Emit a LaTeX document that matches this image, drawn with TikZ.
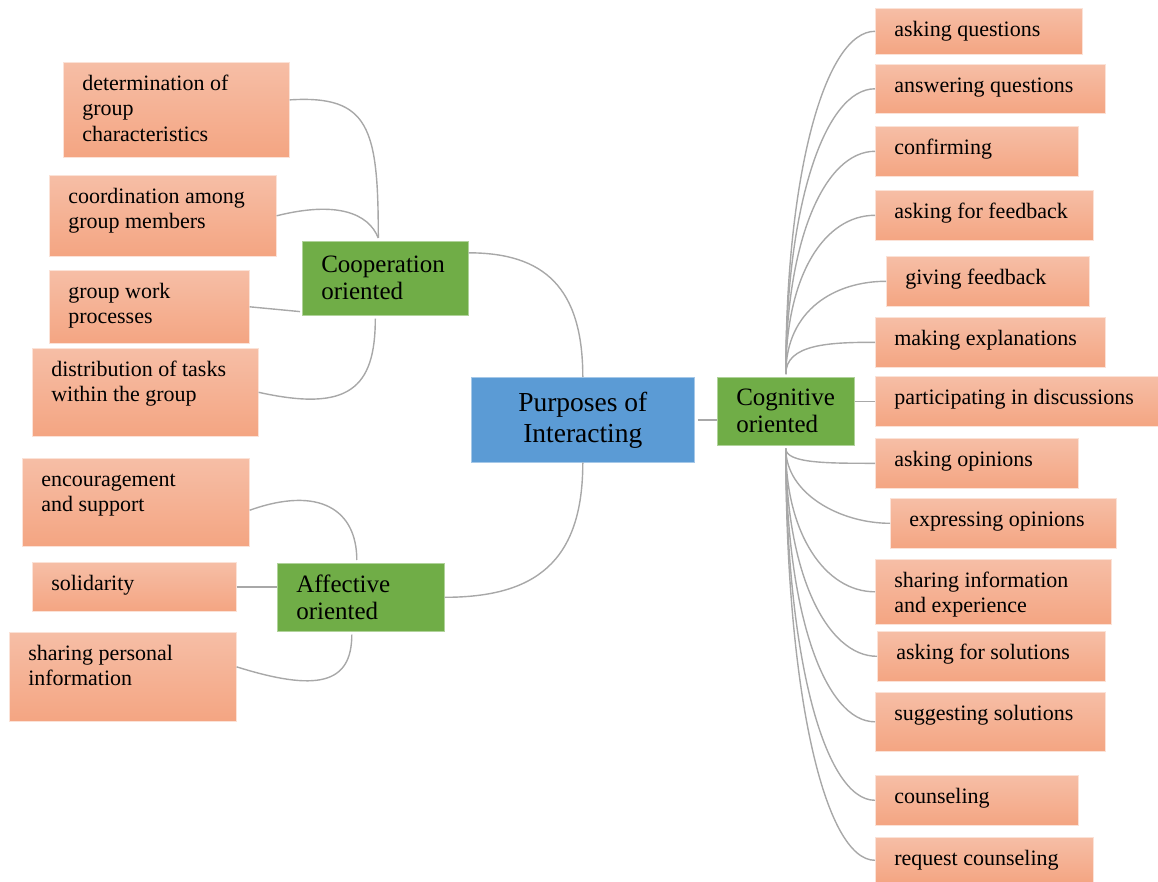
\documentclass[tikz,border=0pt]{standalone}
\usepackage{fontspec}
\setmainfont{Liberation Serif}
\usetikzlibrary{calc}
\definecolor{salmonT}{HTML}{F6BEA6}
\definecolor{salmonB}{HTML}{F4A582}
\definecolor{grn}{HTML}{70AD47}
\definecolor{blu}{HTML}{5B9BD5}
\definecolor{conncol}{HTML}{A8A8A8}
\newcommand{\leafbox}[6]{\node[leaf] (#1) at (#2,#3) {\parbox[c][#5pt][t]{\dimexpr #4pt-38pt\relax}{\raggedright\rule{0pt}{28pt}#6}};}
\tikzset{
  leaf/.style={anchor=north west, top color=salmonT, bottom color=salmonB, draw=salmonT!45!white, line width=0.6pt,
    inner xsep=19pt, inner ysep=0pt, font=\fontsize{22}{25.5}\selectfont, text=black},
  midbox/.style={anchor=north west, fill=grn, draw=grn!55!white, line width=0.6pt, align=left, inner xsep=19pt,
    inner ysep=0pt, font=\fontsize{25}{27}\selectfont, text=black},
  rootbox/.style={anchor=north west, fill=blu, draw=blu!55!white, line width=0.6pt, align=center,
    font=\fontsize{27.5}{31}\selectfont, text=black, minimum width=223pt, minimum height=85pt},
  conn/.style={draw=conncol, line width=1.4pt}
}
\begin{document}
\begin{tikzpicture}[x=1pt,y=-1pt]
\useasboundingbox (0,0) rectangle (1158,882);
% root and middle nodes
\node[rootbox] (blue) at (471,377) {Purposes of\\Interacting};
\node[midbox, text width=128pt, minimum height=74pt] (coop) at (302,241) {Cooperation\\oriented};
\node[midbox, text width=129pt, minimum height=68pt] (aff) at (277,563) {Affective\\oriented};
\node[midbox, text width=99pt, minimum height=68pt] (cog) at (717,377) {Cognitive\\oriented};
% left leaves
\leafbox{det}{63}{62}{226}{95}{determination of\\group\\characteristics}
\leafbox{coord}{49}{175}{227}{81}{coordination among\\group members}
\leafbox{gw}{49}{270}{200}{73}{group work\\processes}
\leafbox{dist}{32}{348}{226}{88}{distribution of tasks\\within the group}
\leafbox{enc}{22}{458}{227}{88}{encouragement\\and support}
\leafbox{sol}{32}{562}{204}{49}{solidarity}
\leafbox{share}{9}{632}{227}{89}{sharing personal\\information}
% right leaves
\leafbox{r1}{875}{8}{207}{46}{asking questions}
\leafbox{r2}{875}{64}{230}{49}{answering questions}
\leafbox{r3}{875}{126}{203}{50}{confirming}
\leafbox{r4}{875}{190}{218}{50}{asking for feedback}
\leafbox{r5}{886}{256}{203}{50}{giving feedback}
\leafbox{r6}{875}{317}{230}{50}{making explanations}
\leafbox{r7}{875}{376}{283}{50}{participating in discussions}
\leafbox{r8}{875}{438}{203}{50}{asking opinions}
\leafbox{r9}{890}{498}{226}{50}{expressing opinions}
\leafbox{r10}{875}{559}{236}{65}{sharing information\\and experience}
\leafbox{r11}{877}{631}{228}{50}{asking for solutions}
\leafbox{r12}{875}{692}{230}{59}{suggesting solutions}
\leafbox{r13}{875}{775}{203}{50}{counseling}
\leafbox{r14}{875}{837}{218}{46}{request counseling}
% junction points
\coordinate (coopT) at ($(coop.north)+(-7,-3)$);
\coordinate (coopB) at ($(coop.south)+(-10,3)$);
\coordinate (affT) at ($(aff.north)+(-4,-3)$);
\coordinate (affB) at ($(aff.south)+(-9,3)$);
\coordinate (cogT) at ($(cog.north)+(0,-3)$);
\coordinate (cogB) at ($(cog.south)+(0,3)$);
% root connectors
\draw[conn] (coop.17) .. controls +(75,0) and +(0,-90) .. (blue.north);
\draw[conn] (blue.south) .. controls +(0,100) and +(90,0) .. (aff.east);
\draw[conn] ($(blue.east)+(3,0)$) -- (blue.east -| cog.west);
% cooperation
\draw[conn] (det.5) .. controls +(80,-5) and +(0,-110) .. (coopT);
\draw[conn] (coord.east) .. controls +(60,-15) and +(-10,-25) .. (coopT);
\draw[conn] (gw.east) -- ($(coop.south west)+(-2,-4)$);
\draw[conn] (dist.east) .. controls +(90,20) and +(0,70) .. (coopB);
% affective
\draw[conn] (enc.-4) .. controls +(70,-25) and +(0,-50) .. (affT);
\draw[conn] (sol.east) -- (sol.east -| aff.west);
\draw[conn] (share.5) .. controls +(80,25) and +(0,50) .. (affB);
% cognitive
\foreach \n/\c/\e in {r1/200/50, r2/170/50, r3/135/50, r4/100/50, r5/65/50, r6/30/45}
  \draw[conn] (cogT) .. controls +(0,-\c) and +(-\e,0) .. (\n.west);
\draw[conn] (r7.west -| cog.east) -- (r7.west);
\foreach \n/\c/\e in {r8/15/45, r9/45/50, r10/85/50, r11/125/50, r12/165/50, r13/210/50, r14/245/50}
  \draw[conn] (cogB) .. controls +(0,\c) and +(-\e,0) .. (\n.west);
\end{tikzpicture}
\end{document}
